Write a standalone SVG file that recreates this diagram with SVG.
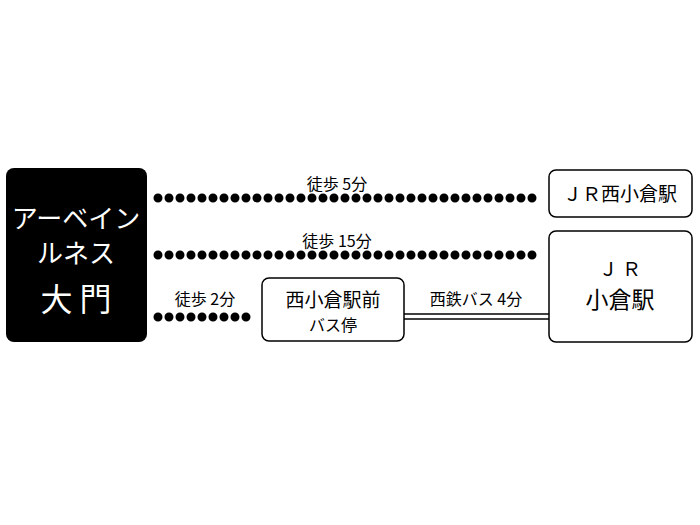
<svg xmlns="http://www.w3.org/2000/svg" width="700" height="525" viewBox="0 0 700 525">
<style>
text{font-family:"Noto Sans CJK JP","Liberation Sans",sans-serif;text-anchor:middle}
.box{fill:#fff;stroke:#000;stroke-width:1.5}
.dot{stroke:#000;stroke-width:9;stroke-linecap:round;stroke-dasharray:0 11;fill:none}
.lbl{font-size:16px}
</style>
<rect width="700" height="525" fill="#fff"/>
<g id="connectors">
<line class="dot" x1="158" y1="198" x2="541" y2="198"/>
<line class="dot" x1="158" y1="255" x2="541" y2="255"/>
<line class="dot" x1="158" y1="317" x2="253" y2="317"/>
<line x1="404" y1="314" x2="549" y2="314" stroke="#000" stroke-width="1.5"/>
<line x1="404" y1="319" x2="549" y2="319" stroke="#000" stroke-width="1.5"/>
<text class="lbl" x="337" y="190">徒歩 5分</text>
<text class="lbl" x="337" y="247">徒歩 15分</text>
<text class="lbl" x="205" y="305">徒歩 2分</text>
<text class="lbl" x="476" y="305">西鉄バス 4分</text>
</g>
<g id="n-hotel">
<rect x="6" y="168" width="141" height="174" rx="8" fill="#000"/>
<text x="76" y="228" font-size="26" fill="#fff">アーベイン</text>
<text x="76" y="263" font-size="26" fill="#fff">ルネス</text>
<text x="76" y="311" font-size="32" fill="#fff">大 門</text>
</g>
<g id="n-nishikokura">
<rect class="box" x="549" y="170" width="143" height="47" rx="7"/>
<text x="620" y="201" font-size="19">ＪＲ西小倉駅</text>
</g>
<g id="n-kokura">
<rect class="box" x="549" y="231" width="143" height="111" rx="7"/>
<text x="620" y="276" font-size="19">Ｊ Ｒ</text>
<text x="620" y="308" font-size="23">小倉駅</text>
</g>
<g id="n-busstop">
<rect class="box" x="262" y="278" width="142" height="63" rx="7"/>
<text x="333" y="307" font-size="19">西小倉駅前</text>
<text x="333" y="331" font-size="16">バス停</text>
</g>
</svg>
